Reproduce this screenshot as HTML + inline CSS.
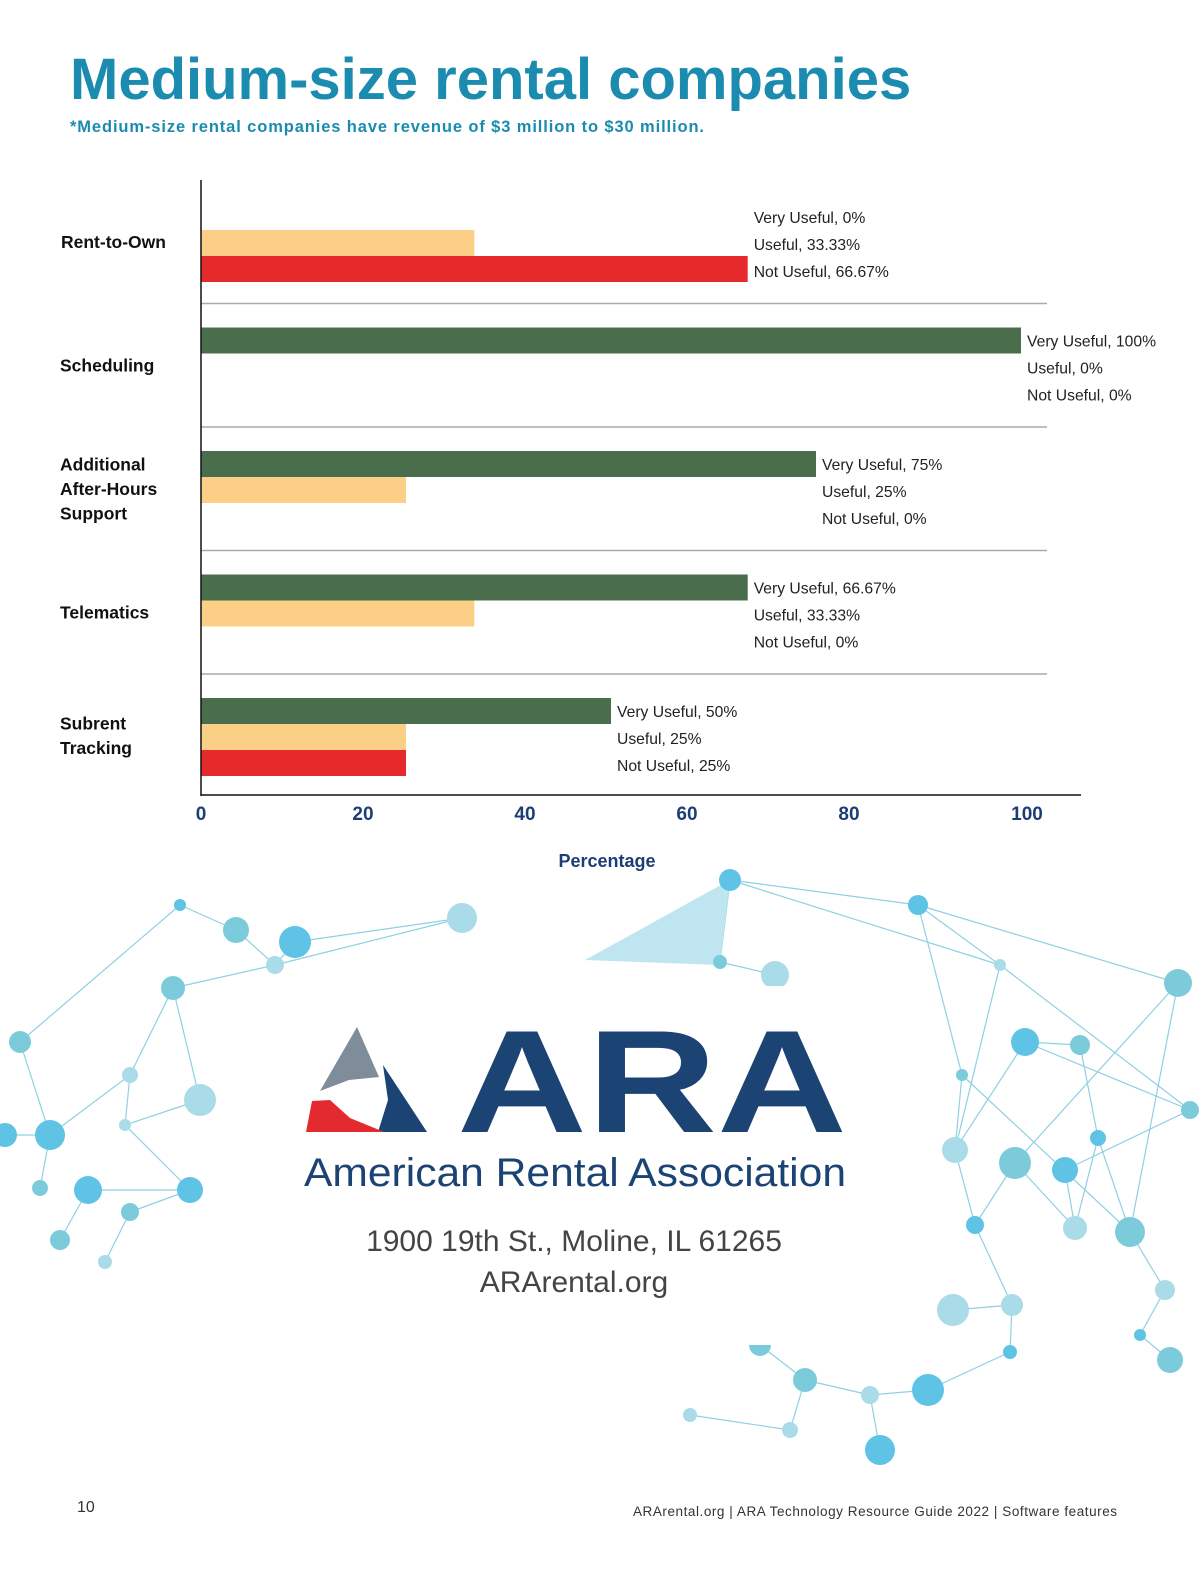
<!DOCTYPE html>
<html><head><meta charset="utf-8"><style>
html,body{margin:0;padding:0;background:#fff;}
svg{display:block;font-family:"Liberation Sans",sans-serif;}
</style></head><body>
<svg id="pg" width="1200" height="1582" viewBox="0 0 1200 1582" xmlns="http://www.w3.org/2000/svg">
<g id="bg"></g>
<rect x="226" y="986" width="710" height="359" fill="#fff"/>
<text x="70" y="99" font-size="58" font-weight="bold" fill="#1b8bb0">Medium-size rental companies</text>
<text x="70" y="132" font-size="16.5" font-weight="bold" fill="#1b8bb0" textLength="634" lengthAdjust="spacing">*Medium-size rental companies have revenue of $3 million to $30 million.</text>
<g id="chart"></g>
<g>
<polygon points="357,1027 379,1077 349,1080 320,1091" fill="#7f8c99"/>
<polygon points="383,1065 427,1132 378,1132 388,1100" fill="#1b4374"/>
<polygon points="312,1101 330,1100 350,1118 384,1132 306,1132" fill="#e32a2e"/>
<text x="457" y="1132" font-size="146" font-weight="bold" fill="#1b4374" textLength="390" lengthAdjust="spacingAndGlyphs">ARA</text>
<text x="304" y="1186" font-size="40" fill="#1b4374" textLength="542" lengthAdjust="spacingAndGlyphs">American Rental Association</text>
<text x="574" y="1251" font-size="30" fill="#444" text-anchor="middle">1900 19th St., Moline, IL 61265</text>
<text x="574" y="1292" font-size="30" fill="#444" text-anchor="middle">ARArental.org</text>
</g>
<text x="77" y="1512" font-size="16" fill="#333">10</text>
<text x="1117" y="1516" font-size="13.5" fill="#333" text-anchor="end" textLength="484" lengthAdjust="spacing">ARArental.org  |  ARA Technology Resource Guide 2022  |  Software features</text>
</svg>
<script>
const categories=[["Rent-to-Own"],["Scheduling"],["Additional","After-Hours","Support"],["Telematics"],["Subrent","Tracking"]];
const veryUseful=[0,100,75,66.67,50];
const useful=[33.33,0,25,33.33,25];
const notUseful=[66.67,0,0,0,25];
const seriesNames=["Very Useful","Useful","Not Useful"];
const xTicks=[0,20,40,60,80,100];
const NS="http://www.w3.org/2000/svg";
const chart=document.getElementById('chart');
const x0=201,xs=8.2,top0=180,gh=123.5;
const xScale=v=>x0+v*xs;
const colors=["#4a6d4c","#fbd086","#e6292b"];
function mk(tag,attrs,parent){const e=document.createElementNS(NS,tag);for(const k in attrs)e.setAttribute(k,attrs[k]);(parent||chart).appendChild(e);return e;}
const series=[veryUseful,useful,notUseful];
categories.forEach((cat,i)=>{
  const gy=top0+i*gh;
  if(i>0){const l=mk('line',{x1:x0,x2:1047,y1:gy,y2:gy,stroke:'#aaa','stroke-width':1.5});
    
    }
  let maxEnd=x0;
  series.forEach((s,j)=>{
    const y=gy+24+j*26;
    const w=s[i]*xs;
    if(w>0){const r=mk('rect',{x:x0,y:y,width:w,height:26,fill:colors[j]});
      
      }
    maxEnd=Math.max(maxEnd,xScale(s[i]));
  });
  series.forEach((s,j)=>{
    const t=mk('text',{x:maxEnd+6,y:gy+43+j*27,'font-size':15.7,fill:'#222'});
    t.textContent=seriesNames[j]+', '+s[i]+'%';
    
    
  });
  const n=cat.length,cy=gy+gh/2+6;
  cat.forEach((c,k)=>{
    const t=mk('text',{x:i==0?61:60,y:cy+(k-(n-1)/2)*24.5,'font-size':17.5,'font-weight':'bold',fill:'#111'});
    t.textContent=c;
    
    
  });
});
const ya=mk('line',{x1:x0,x2:x0,y1:180,y2:796,stroke:'#111','stroke-width':1.5});


const xa=mk('line',{x1:x0,x2:1081,y1:795,y2:795,stroke:'#111','stroke-width':1.5});


xTicks.forEach(v=>{
  const t=mk('text',{x:x0+v*8.1+(v==100?16:0),y:820,'font-size':19,'font-weight':'bold',fill:'#1d3e75','text-anchor':'middle'});
  t.textContent=v;
  
  
});
const xt=mk('text',{x:607,y:867,'font-size':18,'font-weight':'bold',fill:'#1d3e75','text-anchor':'middle'});
xt.textContent='Percentage';


// decorative network
const bg=document.getElementById('bg');
const nodes=[[180,905],[236,930],[275,965],[295,942],[173,988],[130,1075],[50,1135],[20,1042],[105,1262],[88,1190],[60,1240],[125,1125],[190,1190],[130,1212],[200,1100],[5,1135],[40,1188],[462,918],[730,880],[720,962],[775,975],[918,905],[962,1075],[955,1150],[975,1225],[1015,1163],[1075,1228],[1098,1138],[1130,1232],[1012,1305],[1010,1352],[1178,983],[1165,1290],[1140,1335],[1170,1360],[870,1395],[928,1390],[805,1380],[790,1430],[880,1450],[760,1345],[690,1415],[1025,1042],[1080,1045],[1000,965],[1065,1170],[1190,1110],[953,1310]];
const links=[[0,1],[1,2],[2,3],[2,4],[4,5],[5,6],[6,7],[5,11],[11,12],[12,13],[13,8],[9,10],[9,12],[11,14],[6,15],[6,16],[17,2],[18,19],[19,20],[21,22],[22,23],[23,24],[24,25],[25,26],[26,27],[27,28],[24,29],[29,30],[28,31],[28,32],[32,33],[33,34],[35,36],[35,37],[37,38],[35,39],[37,40],[38,41],[23,42],[42,43],[43,27],[21,44],[44,23],[26,45],[45,46],[29,47],[30,36],[21,31],[44,46],[22,28],[25,31],[42,46],[0,7],[4,14],[3,17],[18,21],[18,44]];
links.forEach(([a,b])=>mk('line',{x1:nodes[a][0],y1:nodes[a][1],x2:nodes[b][0],y2:nodes[b][1],stroke:'#8fd0e3','stroke-width':1.2},bg));
mk('polygon',{points:'730,880 720,965 585,960',fill:'#bfe5f0'},bg);
nodes.forEach((p,i)=>{const r=6+(i*7%11);mk('circle',{cx:p[0],cy:p[1],r:r,fill:i%3==0?'#5ec3e4':(i%3==1?'#7ccbdb':'#aadbe8')},bg);});
</script>
</body></html>
